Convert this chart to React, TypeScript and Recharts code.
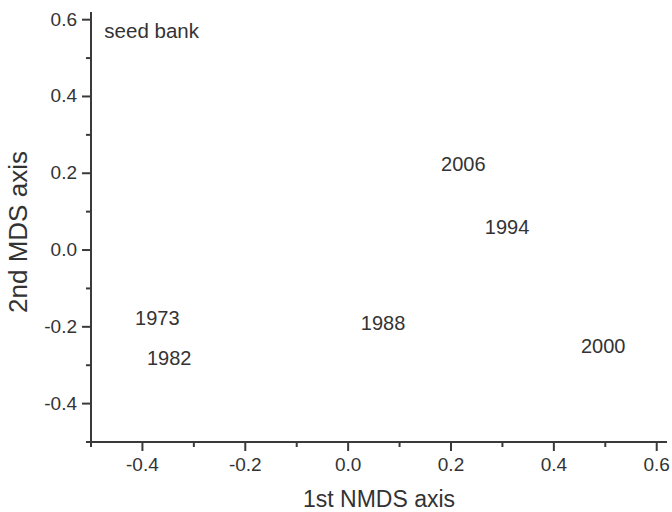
import React from 'react';
import { ScatterChart, Scatter, XAxis, YAxis, Label } from 'recharts';

// NMDS scores of the seed bank samples, one label per year
const years = ['1973', '1982', '1988', '1994', '2000', '2006'];
const nmds1 = [-0.371, -0.348, 0.068, 0.309, 0.496, 0.224];
const nmds2 = [-0.181, -0.286, -0.194, 0.055, -0.254, 0.219];

// panel caption, placed in data units
const captionText = 'seed bank';
const captionX = -0.474;
const captionY = 0.566;

// axis ticks (every 0.1, labelled every 0.2)
const xTicks = [-0.5, -0.4, -0.3, -0.2, -0.1, 0, 0.1, 0.2, 0.3, 0.4, 0.5, 0.6];
const yTicks = [-0.5, -0.4, -0.3, -0.2, -0.1, 0, 0.1, 0.2, 0.3, 0.4, 0.5, 0.6];

const points = years.map((y, i) => ({ name: y, x: nmds1[i], y: nmds2[i] }));
const caption = [{ name: captionText, x: captionX, y: captionY }];

const FONT = '"Liberation Sans", Arial, sans-serif';
const INK = '#333333';
const AXIS = '#3a3a3a';

const isMajor = (v: number) => Math.round(v * 10) % 2 === 0;

const XTick = (props: any) => {
  const { x, y, payload } = props;
  const v = payload.value as number;
  const major = isMajor(v);
  return (
    <g>
      <line x1={x} x2={x} y1={y} y2={y + (major ? 9 : 5)} stroke={AXIS} strokeWidth={2} />
      {major && (
        <text x={x} y={y + 29} textAnchor="middle" fontSize={19} fontFamily={FONT} fill={INK}>
          {v.toFixed(1)}
        </text>
      )}
    </g>
  );
};

const YTick = (props: any) => {
  const { x, y, payload } = props;
  const v = payload.value as number;
  const major = isMajor(v);
  return (
    <g>
      <line x1={x} x2={x - (major ? 9 : 5)} y1={y} y2={y} stroke={AXIS} strokeWidth={2} />
      {major && (
        <text x={x - 14} y={y + 6} textAnchor="end" fontSize={19} fontFamily={FONT} fill={INK}>
          {v.toFixed(1)}
        </text>
      )}
    </g>
  );
};

const YearLabel = (props: any) => (
  <text x={props.cx} y={props.cy + 5} textAnchor="middle" fontSize={20} fontFamily={FONT} fill={INK}>
    {props.payload.name}
  </text>
);

const CaptionLabel = (props: any) => (
  <text x={props.cx} y={props.cy + 5.5} textAnchor="start" fontSize={20.5} fontFamily={FONT} fill={INK}>
    {props.payload.name}
  </text>
);

const YTitle = () => (
  <text
    transform="translate(27,232) rotate(-90)"
    textAnchor="middle"
    fontSize={26}
    fontFamily={FONT}
    fill={INK}
  >
    2nd MDS axis
  </text>
);

export default function App() {
  return (
    <div style={{ position: 'absolute', left: 0, top: 0, background: '#fff' }}>
      <ScatterChart width={672} height={512} margin={{ top: 12, right: 5, bottom: 0, left: 0 }}>
        <XAxis
          type="number"
          dataKey="x"
          domain={[-0.5, 0.62]}
          allowDataOverflow
          ticks={xTicks}
          interval={0}
          tickSize={0}
          tickMargin={0}
          height={70}
          axisLine={{ stroke: AXIS, strokeWidth: 2 }}
          tick={<XTick />}
        >
          <Label
            value="1st NMDS axis"
            position="insideBottom"
            offset={5}
            style={{ fontSize: 23, fontFamily: FONT, fill: INK }}
          />
        </XAxis>
        <YAxis
          type="number"
          dataKey="y"
          domain={[-0.5, 0.62]}
          allowDataOverflow
          ticks={yTicks}
          interval={0}
          tickSize={0}
          tickMargin={0}
          width={91}
          axisLine={{ stroke: AXIS, strokeWidth: 2 }}
          tick={<YTick />}
        >
          <Label content={<YTitle />} />
        </YAxis>
        <Scatter data={points} shape={<YearLabel />} isAnimationActive={false} />
        <Scatter data={caption} shape={<CaptionLabel />} isAnimationActive={false} />
      </ScatterChart>
    </div>
  );
}
